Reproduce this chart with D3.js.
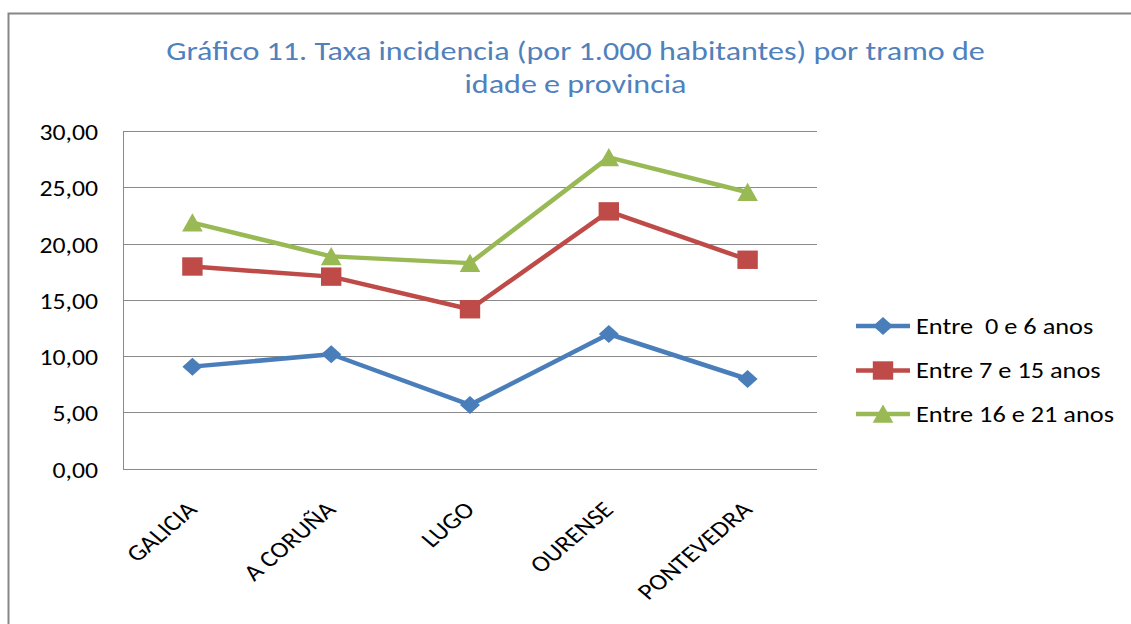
<!DOCTYPE html>
<html lang="pt">
<head>
  <meta charset="utf-8">
  <title>Gráfico 11</title>
  <script src="https://d3js.org/d3.v7.min.js"></script>
  <style>
    body { margin: 0; background: #fff; }
    svg text { font-family: Carlito, Calibri, "Open Sans", sans-serif; fill: #000; }
    .title { fill: #4f81bd; font-size: 27.4px; text-anchor: middle; }
    .grid line { stroke: #8a8a8a; stroke-width: 1; shape-rendering: crispEdges; }
    .axis path, .axis line { stroke: #8a8a8a; shape-rendering: crispEdges; }
    .axis text { font-size: 22px; font-family: Carlito, Calibri, sans-serif; }
    .xaxis text { font-size: 22.8px; }
    .legend text { font-size: 22.5px; }
  </style>
</head>
<body>
<div id="chart"></div>
<script>
  var categories = ["GALICIA", "A CORUÑA", "LUGO", "OURENSE", "PONTEVEDRA"];
  var seriesNames = ["Entre  0 e 6 anos", "Entre 7 e 15 anos", "Entre 16 e 21 anos"];
  var age0to6 = [9.1, 10.2, 5.7, 12.0, 8.0];
  var age7to15 = [18.0, 17.1, 14.2, 22.9, 18.6];
  var age16to21 = [21.9, 18.9, 18.3, 27.7, 24.6];
  var yTicks = [0, 5, 10, 15, 20, 25, 30];

  var colors = ["#4a7ebb", "#be4b48", "#98b954"];
  var series = [age0to6, age7to15, age16to21];

  // the source picture is stretched sideways a little
  var sx = 1.17;

  // excel-like markers, a bit wider than tall
  var markers = [
    'M0,-9L10,0L0,9L-10,0Z',
    'M-10.2,-9.2H10.2V9.2H-10.2Z',
    'M0,-9.5L10.3,8.8H-10.3Z'
  ];

  var W = 1131, H = 624;
  var plot = { left: 123, top: 131.5, right: 817, bottom: 469 };

  var svg = d3.select('#chart').append('svg')
    .attr('width', W).attr('height', H);

  // outer chart frame
  svg.append('path')
    .attr('d', 'M8.5,' + (H + 2) + 'V13.5H' + (W + 2))
    .attr('fill', 'none')
    .attr('stroke', '#878787')
    .attr('stroke-width', 2);

  function stretched(sel, x, y, extra) {
    return sel.attr('transform', 'translate(' + x + ',' + y + ') scale(' + sx + ',1)' + (extra || ''));
  }

  stretched(svg.append('text').attr('class', 'title'), 575.5, 60)
    .text('Gráfico 11. Taxa incidencia (por 1.000 habitantes) por tramo de');
  stretched(svg.append('text').attr('class', 'title'), 575.5, 93)
    .text('idade e provincia');

  var x = d3.scaleBand().domain(categories).range([plot.left, plot.right]);
  var y = d3.scaleLinear().domain([0, 30]).range([plot.bottom, plot.top]);
  var cx = c => x(c) + x.bandwidth() / 2;

  svg.append('g').attr('class', 'grid')
    .selectAll('line').data(yTicks.slice(1)).enter().append('line')
    .attr('x1', plot.left).attr('x2', plot.right)
    .attr('y1', d => y(d)).attr('y2', d => y(d));

  var yAxis = svg.append('g').attr('class', 'axis')
    .attr('transform', 'translate(' + plot.left + ',0)')
    .call(d3.axisLeft(y).tickValues(yTicks).tickSize(0)
      .tickFormat(d => d3.format('.2f')(d).replace('.', ',')));
  yAxis.select('.domain').remove();
  yAxis.selectAll('.tick text')
    .attr('x', null).attr('dy', null)
    .attr('transform', 'translate(-25,8) scale(' + sx + ',1)');
  yAxis.append('line').attr('x1', 0).attr('x2', 0)
    .attr('y1', plot.top).attr('y2', plot.bottom).attr('stroke', '#8a8a8a');

  var xAxis = svg.append('g').attr('class', 'axis xaxis')
    .attr('transform', 'translate(0,' + plot.bottom + ')')
    .call(d3.axisBottom(x).tickSize(0).tickPadding(0));
  xAxis.select('.domain').attr('d', 'M' + plot.left + ',0H' + plot.right);
  xAxis.selectAll('.tick text')
    .attr('text-anchor', 'end')
    .attr('y', null).attr('dy', null)
    .attr('transform', 'translate(6,42) scale(' + sx + ',1) rotate(-45)');

  var line = d3.line()
    .x((d, i) => cx(categories[i]))
    .y(d => y(d));

  series.forEach(function (vals, s) {
    svg.append('path').datum(vals)
      .attr('d', line)
      .attr('fill', 'none')
      .attr('stroke', colors[s])
      .attr('stroke-width', 4.5)
      .attr('stroke-linejoin', 'round');
    svg.append('g').selectAll('path').data(vals).enter().append('path')
      .attr('d', markers[s])
      .attr('transform', (d, i) => 'translate(' + cx(categories[i]) + ',' + y(d) + ')')
      .attr('fill', colors[s]);
  });

  var legend = svg.append('g').attr('class', 'legend');
  var legY = [326, 370.5, 414];
  seriesNames.forEach(function (name, s) {
    var g = legend.append('g').attr('transform', 'translate(0,' + legY[s] + ')');
    g.append('line').attr('x1', 856).attr('x2', 910).attr('y1', 0).attr('y2', 0)
      .attr('stroke', colors[s]).attr('stroke-width', 4.5);
    g.append('path').attr('d', markers[s])
      .attr('transform', 'translate(883,0)').attr('fill', colors[s]);
    stretched(g.append('text'), 916, 7.5).style('white-space', 'pre').text(name);
  });
</script>
</body>
</html>
